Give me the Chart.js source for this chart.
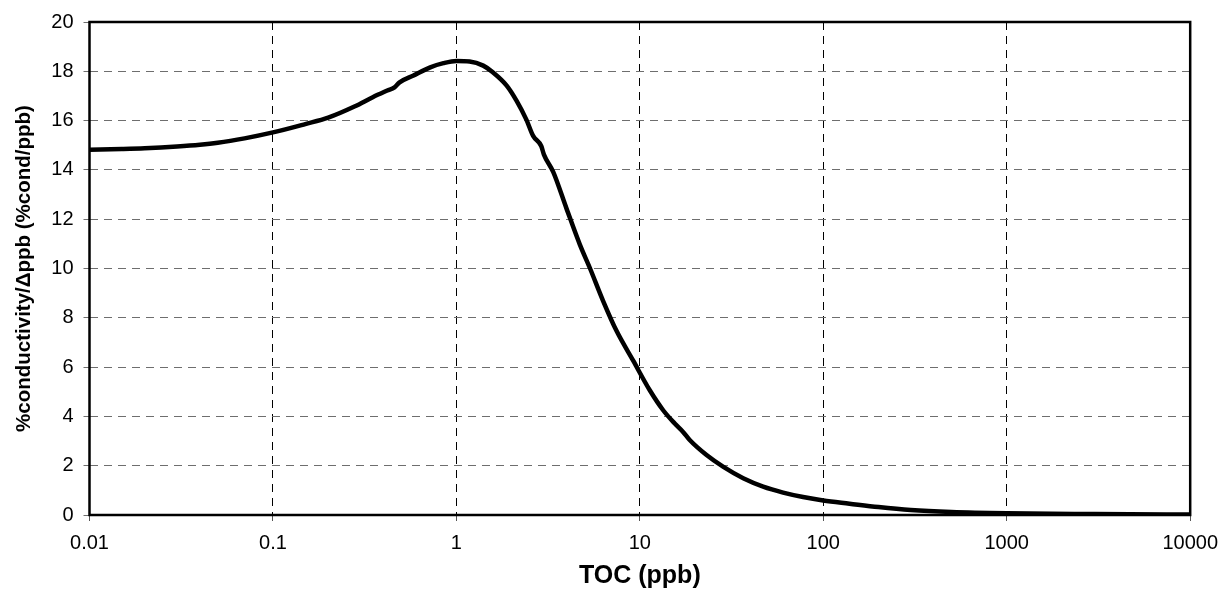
<!DOCTYPE html>
<html lang="en">
<head>
  <meta charset="UTF-8">
  <title>TOC sensitivity</title>
  <style>
    body {
      margin: 0;
      padding: 0;
      background-color: #fff;
    }
    #chartBox {
      width: 1228px;
      height: 592px;
    }
  </style>
</head>
<body>
  <div id="chartBox">
    <canvas id="myChart" width="1228" height="592"></canvas>
  </div>
  <script src="https://cdn.jsdelivr.net/npm/chart.js"></script>
  <script>
    // TOC concentration (ppb) and % conductivity change per ppb
    var tocPpb = [0.01, 0.015, 0.02, 0.03, 0.04, 0.05, 0.07, 0.1, 0.15, 0.2, 0.28, 0.35, 0.42, 0.46,
      0.49, 0.58, 0.72, 0.85, 1.0, 1.18, 1.4, 1.58, 1.88, 2.13, 2.41, 2.62, 2.9, 3.0, 3.37, 3.98,
      4.71, 5.34, 6.31, 7.46, 9.2, 11.35, 13.4, 15.5, 17.2, 18.7, 23.1, 28.4, 36.6, 47, 60.4, 77.6,
      100, 139, 200, 300, 500, 1000, 3000, 10000];
    var condPerPpb = [14.82, 14.85, 14.88, 14.95, 15.02, 15.1, 15.28, 15.52, 15.86, 16.12, 16.58, 16.95, 17.22, 17.35,
      17.55, 17.82, 18.16, 18.33, 18.42, 18.4, 18.23, 17.96, 17.42, 16.8, 16.03, 15.38, 14.97, 14.62, 13.92, 12.44,
      10.97, 10.02, 8.68, 7.47, 6.26, 5.05, 4.25, 3.71, 3.37, 3.04, 2.43, 1.96, 1.49, 1.15, 0.91, 0.73,
      0.59, 0.46, 0.32, 0.2, 0.12, 0.07, 0.04, 0.02];

    var xTickValues = [0.01, 0.1, 1, 10, 100, 1000, 10000];
    var xTickLabels = ['0.01', '0.1', '1', '10', '100', '1000', '10000'];

    var xTitle = 'TOC (ppb)';
    var yTitle = '%conductivity/\u0394ppb (%cond/ppb)';

    // box around the plot area
    var frame = {
      id: 'frame',
      afterDatasetsDraw: function(chart) {
        var a = chart.chartArea;
        var c = chart.ctx;
        c.save();
        c.strokeStyle = '#000';
        c.lineWidth = 2.5;
        c.strokeRect(a.left, a.top, a.right - a.left, a.bottom - a.top);
        c.restore();
      }
    };

    var ctx = document.getElementById('myChart').getContext('2d');
    var myChart = new Chart(ctx, {
      type: 'line',
      data: {
        datasets: [{
          data: tocPpb.map(function(x, i) { return { x: x, y: condPerPpb[i] }; }),
          borderColor: '#000',
          borderWidth: 4.5,
          pointRadius: 0,
          cubicInterpolationMode: 'monotone',
          fill: false
        }]
      },
      options: {
        responsive: false,
        devicePixelRatio: 1,
        animation: false,
        layout: {
          padding: { top: 19, right: 37, left: 0, bottom: 0 }
        },
        plugins: {
          legend: { display: false },
          tooltip: { enabled: false }
        },
        scales: {
          x: {
            type: 'logarithmic',
            min: 0.01,
            max: 10000,
            afterBuildTicks: function(scale) {
              scale.ticks = xTickValues.map(function(v) { return { value: v }; });
            },
            afterFit: function(scale) {
              scale.height = 77;
            },
            ticks: {
              color: '#000',
              padding: 10,
              maxRotation: 0,
              font: { family: 'Arial, "Liberation Sans", sans-serif', size: 20 },
              callback: function(value) {
                var i = xTickValues.indexOf(value);
                return i >= 0 ? xTickLabels[i] : '';
              }
            },
            grid: {
              color: '#000',
              lineWidth: 1,
              tickLength: 6,
              tickColor: '#555'
            },
            border: { display: false, dash: [8, 6] },
            title: {
              display: true,
              text: xTitle,
              color: '#000',
              padding: { top: 0, bottom: 1 },
              font: { family: 'Arial, "Liberation Sans", sans-serif', size: 25, weight: 'bold' }
            }
          },
          y: {
            min: 0,
            max: 20,
            afterFit: function(scale) {
              scale.width = 89.5;
            },
            ticks: {
              stepSize: 2,
              color: '#000',
              padding: 10,
              font: { family: 'Arial, "Liberation Sans", sans-serif', size: 20 }
            },
            grid: {
              color: '#6e6e6e',
              lineWidth: 1,
              tickLength: 6,
              tickColor: '#6e6e6e'
            },
            border: { display: false, dash: [8, 6] },
            title: {
              display: true,
              text: yTitle,
              color: '#000',
              padding: { top: 12, bottom: 0 },
              font: { family: 'Arial, "Liberation Sans", sans-serif', size: 20.5, weight: 'bold' }
            }
          }
        }
      },
      plugins: [frame]
    });
  </script>
</body>
</html>
